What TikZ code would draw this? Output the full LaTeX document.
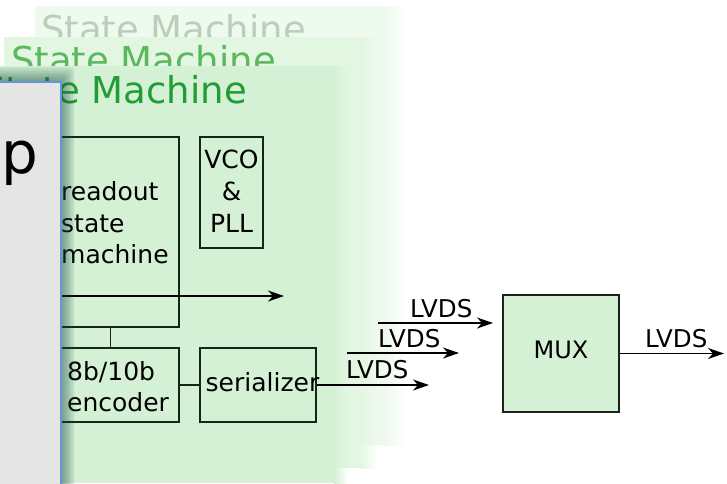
\documentclass[tikz,border=0pt]{standalone}
\usepackage{fontspec}
\setmainfont{DejaVu Sans}
\usetikzlibrary{arrows.meta}
\definecolor{panelA}{RGB}{238,250,238}
\definecolor{panelB}{RGB}{226,246,226}
\definecolor{panelC}{RGB}{213,241,213}
\definecolor{titleA}{RGB}{186,206,186}
\definecolor{titleB}{RGB}{92,184,92}
\definecolor{titleC}{RGB}{34,156,52}
\definecolor{ink}{RGB}{24,36,24}
\definecolor{sidegray}{RGB}{229,229,229}
\definecolor{sideblue}{RGB}{100,150,215}
\definecolor{shadowtone}{RGB}{30,80,70}
\tikzset{
  boxtxt/.style={font=\fontsize{25}{30}\selectfont, inner sep=0pt, text=black},
  sigtxt/.style={font=\fontsize{24.5}{28}\selectfont, inner sep=0pt, anchor=base west, text=black},
  title/.style={font=\fontsize{37}{40}\selectfont, inner sep=0pt, anchor=base west},
  blk/.style={draw=ink, line width=1.4pt, inner sep=0pt},
  sig/.style={draw=black, line width=1.5pt, -{Stealth[length=16pt,width=11pt,inset=5pt]}},
  wire/.style={draw=ink, line width=1.4pt}
}
\begin{document}
\begin{tikzpicture}[x=1pt,y=-1pt]
\useasboundingbox (0,0) rectangle (727,483);
\fill[white] (0,0) rectangle (727,483);

% stacked slides, back to front
\fill[panelA] (35,6) rectangle (385,445);
\shade[left color=panelA, right color=white] (384,6) rectangle (406,445);
\node[title, text=titleA] (ta) at (41,42) {State Machine};

\fill[panelB] (4,37) rectangle (360,468);
\shade[left color=panelB, right color=panelA] (359,37) rectangle (378,445);
\shade[left color=panelB, right color=white] (359,445) rectangle (378,468);
\node[title, text=titleB] (tb) at (11,73) {State Machine};

\fill[panelC] (-20,66) rectangle (335,483);
\shade[left color=panelC, right color=panelB] (334,66) rectangle (348,468);
\shade[left color=panelC, right color=white] (334,468) rectangle (348,483);
\node[title, text=titleC] (tc) at (-18,103) {State Machine};

% blocks
\node[blk, minimum width=137pt, minimum height=190pt] (ro) at (110.5,232) {};
\node[blk, minimum width=63pt, minimum height=111pt] (vco) at (231.5,192.5) {};
\node[blk, minimum width=137pt, minimum height=74pt] (enc) at (110.5,385) {};
\node[blk, minimum width=116pt, minimum height=74pt] (ser) at (258,385) {};
\node[blk, fill=panelC, minimum width=116pt, minimum height=117pt] (mux) at (561,353.5) {};

% block texts
\node[boxtxt, anchor=base west] (ro1) at (61,200) {readout};
\node[boxtxt, anchor=base west] (ro2) at (61,232) {state};
\node[boxtxt, anchor=base west] (ro3) at (61,263) {machine};
\node[boxtxt, anchor=base] (v1) at (231.5,168) {VCO};
\node[boxtxt, anchor=base] (v2) at (231.5,200) {\&};
\node[boxtxt, anchor=base] (v3) at (231.5,232) {PLL};
\node[boxtxt, anchor=base west] (e1) at (67,380) {8b/10b};
\node[boxtxt, anchor=base west] (e2) at (67,411) {encoder};
\node[boxtxt, anchor=base] (s1) at (262.5,391) {serializer};
\node[font=\fontsize{24}{28}\selectfont, inner sep=0pt, anchor=base] (m1) at (561,358) {MUX};

% connectors
\coordinate (rs) at (40,296);
\coordinate (re) at (284,296);
\coordinate (l1e) at (429,385);
\coordinate (l2s) at (347,353);
\coordinate (l2e) at (459,353);
\coordinate (l3s) at (378,323);
\coordinate (l3e) at (493,323);
\coordinate (oe) at (724,353.5);

\draw[sig] (rs) -- (re);
\draw[wire] (ro.south) -- (enc.north);
\draw[wire] (enc.east) -- (ser.west);
\draw[sig] (ser.east) -- (l1e);
\draw[sig] (l2s) -- (l2e);
\draw[sig] (l3s) -- (l3e);
\draw[sig] (mux.east) -- (oe);

\node[sigtxt] (lv1) at (346,378) {LVDS};
\node[sigtxt] (lv2) at (378,347) {LVDS};
\node[sigtxt] (lv3) at (410,317) {LVDS};
\node[sigtxt] (lv4) at (645,347) {LVDS};

% side panel with its soft shadow
\foreach \d in {1,...,8}{
  \fill[shadowtone, opacity=0.08, rounded corners=4pt] (-20,{82-1.9*\d}) rectangle ({61+1.7*\d},500);
}
\fill[sidegray] (-20,82) rectangle (61,500);
\draw[sideblue, line width=2.5pt] (-20,82) -- (61,82) -- (61,500);
\node[font=\fontsize{58}{62}\selectfont, inner sep=0pt, anchor=base east, text=black] (pp) at (39,173) {p};
\end{tikzpicture}
\end{document}
